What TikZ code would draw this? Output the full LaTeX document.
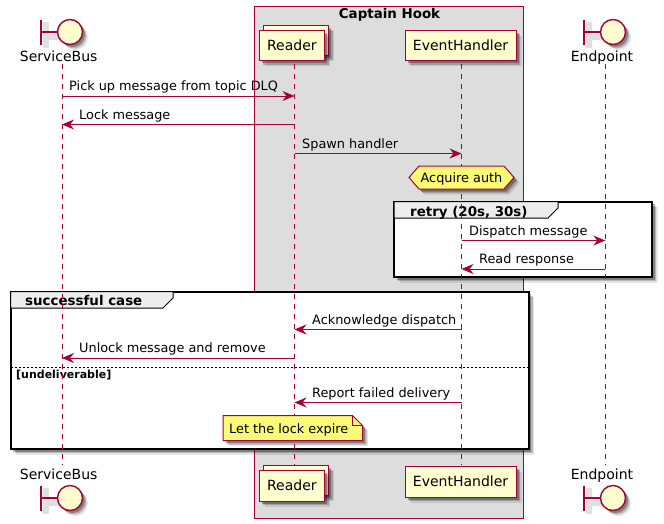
\documentclass[tikz,border=0pt]{standalone}
\usepackage{fontspec}
\setmainfont{DejaVu Sans}
\usetikzlibrary{arrows.meta,shadows,positioning}
\definecolor{seqline}{HTML}{A80036}
\definecolor{seqfill}{HTML}{FEFECE}
\definecolor{notefill}{HTML}{FBFB77}
\tikzset{
softshadow/.style={
  drop shadow={shadow xshift=2.5pt,shadow yshift=-2.5pt,opacity=.3,fill=black},
  drop shadow={shadow xshift=4pt,shadow yshift=-4pt,opacity=.2,fill=black},
  drop shadow={shadow xshift=5.5pt,shadow yshift=-5.5pt,opacity=.1,fill=black}
  },
actor/.style={
  rectangle,draw=seqline,fill=seqfill,line width=1.2pt,softshadow,
  inner sep=0pt,font=\fontsize{14}{16}\selectfont
  },
lifeline/.style={draw=seqline,line width=.9pt,dash pattern=on 5pt off 5pt},
msg/.style={draw=seqline,line width=1pt,-{Stealth[length=12pt,width=10pt,inset=4pt]}},
msgtext/.style={anchor=base west,inner sep=0pt,font=\fontsize{12.85}{15}\selectfont},
actorname/.style={inner sep=0pt,anchor=base,font=\fontsize{14}{16}\selectfont},
grouptitle/.style={anchor=base west,inner sep=0pt,font=\fontsize{13.4}{15}\selectfont\bfseries},
groupframe/.style={draw=black,fill=white,line width=2pt,softshadow},
grouptab/.style={draw=black,fill=black!7,line width=1pt},
boundaryhead/.pic={
  \fill[black!12] (-19,-10) rectangle (-13,16);
  \fill[black!12] (-19,2) rectangle (0,8);
  \draw[seqline,fill=seqfill,line width=1.4pt,softshadow] (8,0) circle (12.5);
  \draw[seqline,line width=1.4pt] (-21,-12.5) -- (-21,12.5) (-21,0) -- (-4.5,0);
  }
}
\begin{document}
\begin{tikzpicture}[x=1pt,y=-1pt]

\useasboundingbox (0,0) rectangle (664,523);

% box round the two inner participants
\node[draw=seqline,fill=black!13.5,line width=1pt,minimum width=269pt,minimum height=511.5pt,
  inner sep=0pt] (hookbox) at (389,262.25) {};
\node[grouptitle,anchor=base] (hooktitle) at (389.5,18) {Captain Hook};

% groups
\draw[groupframe] (394,201.5) rectangle (652,277);
\draw[grouptab] (394,201.5) -- (558,201.5) -- (558,208) -- (548,218) -- (394,218) -- cycle;
\node[grouptitle] (retrytitle) at (410,216) {retry (20s, 30s)};

\draw[groupframe] (10.5,291.5) rectangle (528.5,449);
\draw[grouptab] (10.5,291.5) -- (173,291.5) -- (173,298) -- (163,308) -- (10.5,308) -- cycle;
\node[grouptitle] (casetitle) at (25,305) {successful case};
\draw[black,line width=.8pt,dash pattern=on 2pt off 2pt] (10.5,367) coordinate (sepL) -- (528.5,367) coordinate (sepR);
\node[grouptitle,font=\fontsize{11}{12}\selectfont\bfseries] (elsetitle) at (16,378.5) {[undeliverable]};

% lifelines
\foreach \name/\xx in {bus/62,reader/294.5,handler/461.5,endpoint/605.3}{
  \coordinate (\name A) at (\xx,64);
  \coordinate (\name B) at (\xx,465);
  \draw[lifeline] (\name A) -- (\name B);
}

% participants
\pic at (62,32) {boundaryhead};
\pic at (62,498) {boundaryhead};
\pic at (605,32) {boundaryhead};
\pic at (605,498) {boundaryhead};
\node[actorname] (busTop) at (58.7,61) {ServiceBus};
\node[actorname] (busBot) at (58.7,479) {ServiceBus};
\node[actorname] (endpointTop) at (602,61) {Endpoint};
\node[actorname] (endpointBot) at (602,479) {Endpoint};

\foreach \name/\yy in {Top/25,Bot/465}{
  \node[actor,minimum width=65.5pt,minimum height=30pt,anchor=north west] (readerBack\name) at (262.5,\yy) {};
}
\node[actor,minimum width=65.5pt,minimum height=30.5pt,anchor=north west] (readerTop) at (258.5,29.5) {Reader};
\node[actor,minimum width=65.5pt,minimum height=31pt,anchor=north west] (readerBot) at (258.5,469.5) {Reader};
\node[actor,minimum width=111pt,minimum height=30.5pt,anchor=north west] (handlerTop) at (404.5,29.5) {EventHandler};
\node[actor,minimum width=111pt,minimum height=31pt,anchor=north west] (handlerBot) at (404.5,465.5) {EventHandler};

% messages
\foreach \name/\from/\to/\yy/\xx/\txt in {
  pick/bus/reader/96/69/{Pick up message from topic DLQ},
  lock/reader/bus/124.5/79/{Lock message},
  spawn/reader/handler/153.5/302/{Spawn handler},
  dispatch/handler/endpoint/240.5/469/{Dispatch message},
  read/endpoint/handler/269/479/{Read response},
  ack/handler/reader/329.5/312/{Acknowledge dispatch},
  unlock/reader/bus/358/79/{Unlock message and remove},
  report/handler/reader/402.5/312/{Report failed delivery}}{
  \draw[msg] (\from A |- 0,\yy) -- (\to A |- 0,\yy);
  \node[msgtext] (\name) at (\xx,\yy-5.5) {\txt};
}

% hexagon and note
\draw[draw=seqline,fill=notefill,line width=1pt,softshadow]
  (409,177.5) -- (419,166) -- (504,166) -- (514,177.5) -- (504,189) -- (419,189) -- cycle;
\node[msgtext,anchor=base] (auth) at (461.5,182) {Acquire auth};
\draw[draw=seqline,fill=notefill,line width=1pt,softshadow]
  (223,415.5) -- (352.5,415.5) -- (362.5,425.5) -- (362.5,440.5) -- (223,440.5) -- cycle;
\draw[draw=seqline,line width=1pt] (352.5,415.5) -- (352.5,425.5) -- (362.5,425.5);
\node[msgtext] (expire) at (229,433) {Let the lock expire};

\end{tikzpicture}
\end{document}
